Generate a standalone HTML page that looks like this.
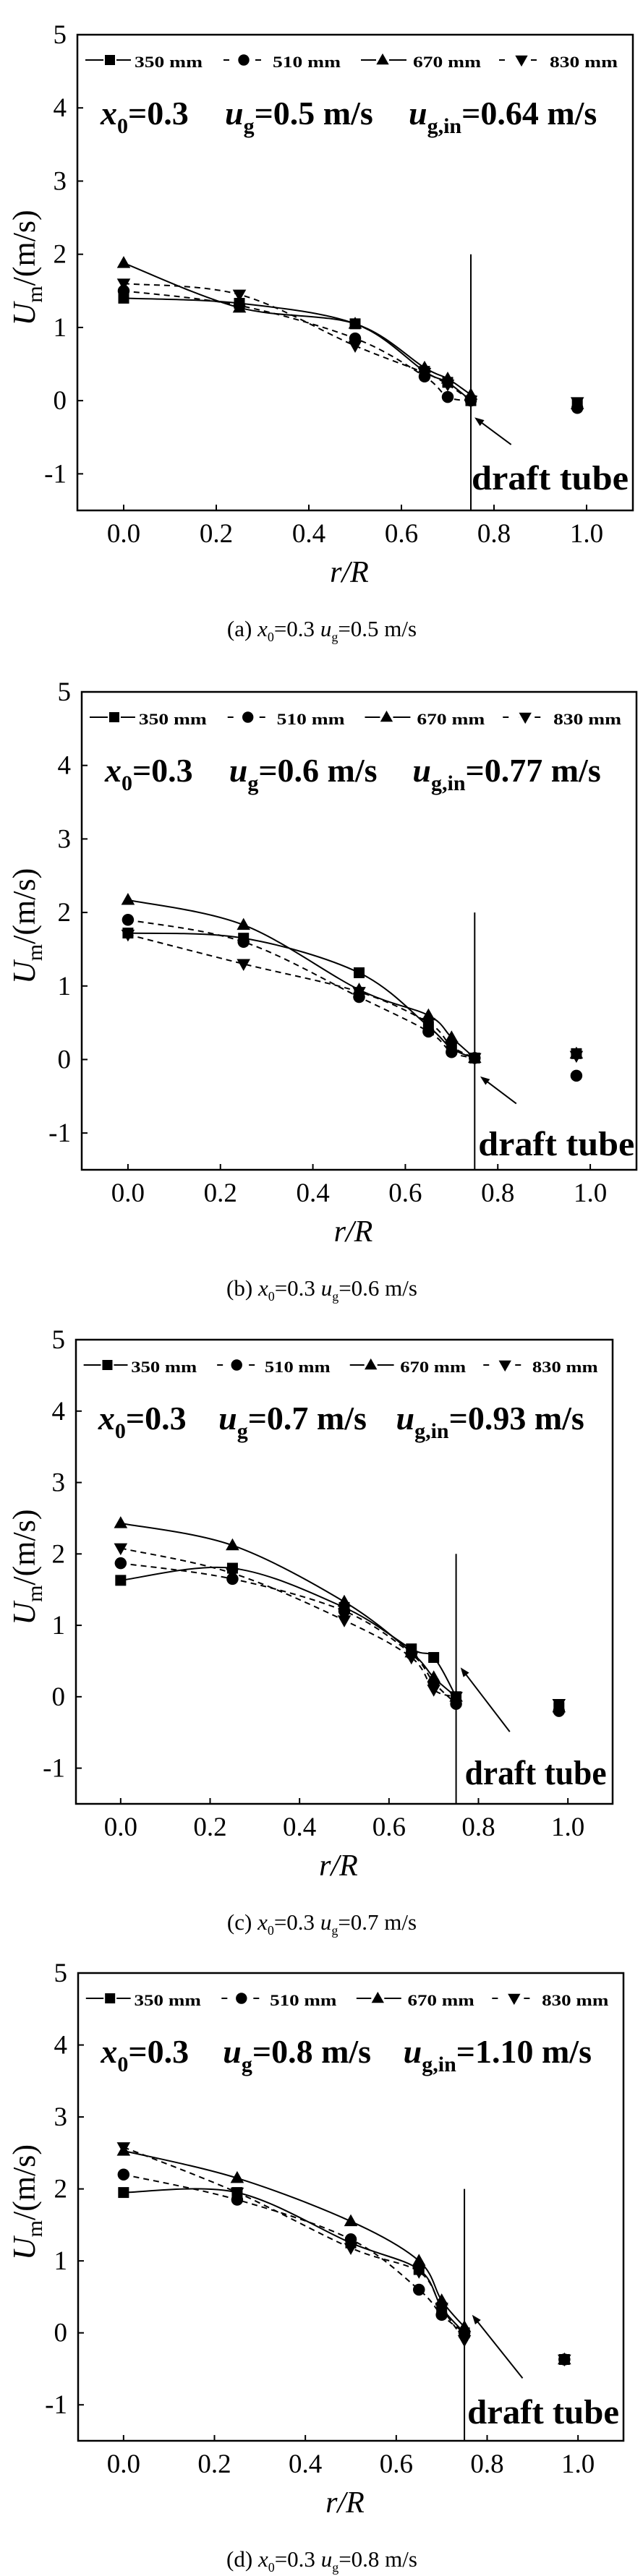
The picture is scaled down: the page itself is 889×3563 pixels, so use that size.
<!DOCTYPE html>
<html><head><meta charset="utf-8">
<style>
html,body{margin:0;padding:0;background:#fff;}
svg{display:block;font-family:"Liberation Serif",serif;}
</style></head>
<body>
<svg id="fig" width="889" height="3563" viewBox="0 0 889 3563" xmlns="http://www.w3.org/2000/svg"></svg>
<script>
// ---- data ----
const seriesNames = ["350 mm","510 mm","670 mm","830 mm"];
const xA = [0,0.25,0.5,0.65,0.7,0.75,0.98];
const xB = [0,0.25,0.5,0.65,0.7,0.75,0.97];
const xC = [0,0.25,0.5,0.65,0.7,0.75,0.98];
const xD = [0,0.25,0.5,0.65,0.7,0.75,0.97];
const a350 = [1.40,1.33,1.05,0.40,0.25,0.00,-0.05];
const a510 = [1.50,1.30,0.85,0.33,0.05,0.00,-0.10];
const a670 = [1.88,1.27,1.05,0.45,0.30,0.08,-0.05];
const a830 = [1.60,1.45,0.75,0.38,0.22,0.00,-0.02];
const b350 = [1.72,1.65,1.18,0.45,0.15,0.02,0.08];
const b510 = [1.90,1.60,0.85,0.38,0.10,0.02,-0.22];
const b670 = [2.17,1.83,0.95,0.60,0.30,0.02,0.08];
const b830 = [1.70,1.30,0.92,0.50,0.18,0.02,0.05];
const c350 = [1.63,1.80,1.25,0.67,0.55,0.00,-0.15];
const c510 = [1.87,1.65,1.20,0.60,0.20,-0.10,-0.20];
const c670 = [2.43,2.12,1.33,0.62,0.27,0.00,-0.15];
const c830 = [2.08,1.73,1.07,0.55,0.10,0.00,-0.10];
const d350 = [1.95,1.95,1.25,0.88,0.35,0.00,-0.37];
const d510 = [2.20,1.85,1.30,0.60,0.25,0.00,-0.37];
const d670 = [2.53,2.15,1.55,1.00,0.45,0.08,-0.37];
const d830 = [2.58,1.95,1.18,0.85,0.35,-0.10,-0.37];
const xTicks = [0,0.2,0.4,0.6,0.8,1.0];
const xTickLabels = ["0.0","0.2","0.4","0.6","0.8","1.0"];
const yTicks = [-1,0,1,2,3,4,5];
const yTickLabels = ["-1","0","1","2","3","4","5"];
const ugVals = ["0.5","0.6","0.7","0.8"];
const uginVals = ["0.64","0.77","0.93","1.10"];
const letters = ["a","b","c","d"];

const panels = [
 {L:107,R:875,T:48,B:706,xs:[xA],ys:[a350,a510,a670,a830],arrow:[0.837,-0.6,0.758,-0.23],dt:[1,-29,217]},
 {L:113,R:880,T:957,B:1618,xs:[xB],ys:[b350,b510,b670,b830],arrow:[0.84,-0.6,0.762,-0.23],dt:[5,-20,216]},
 {L:105,R:847,T:1853,B:2495,xs:[xC],ys:[c350,c510,c670,c830],arrow:[0.87,-0.49,0.76,0.41],dt:[12,-27,196]},
 {L:108,R:862,T:2729,B:3376,xs:[xD],ys:[d350,d510,d670,d830],arrow:[0.878,-0.63,0.767,0.25],dt:[4,-24,210]}
];
const NS="http://www.w3.org/2000/svg";
const svg=document.getElementById('fig');
function el(tag,attrs,parent){const e=document.createElementNS(NS,tag);for(const k in attrs)e.setAttribute(k,attrs[k]);(parent||svg).appendChild(e);return e;}

function marker(g,type,cx,cy,s){
  let m;
  if(type===0){m=el('rect',{x:cx-s*0.5,y:cy-s*0.5,width:s,height:s,fill:'#000'},g);}
  else if(type===1){m=el('circle',{cx:cx,cy:cy,r:s*0.55,fill:'#000'},g);}
  else if(type===2){m=el('polygon',{points:`${cx},${cy-s*0.65} ${cx+s*0.62},${cy+s*0.45} ${cx-s*0.62},${cy+s*0.45}`,fill:'#000'},g);}
  else {m=el('polygon',{points:`${cx},${cy+s*0.65} ${cx+s*0.62},${cy-s*0.45} ${cx-s*0.62},${cy-s*0.45}`,fill:'#000'},g);}
  return m;
}
function spline(pts){
  let d=`M${pts[0][0]},${pts[0][1]}`;
  for(let i=0;i<pts.length-1;i++){
    const p0=pts[Math.max(0,i-1)],p1=pts[i],p2=pts[i+1],p3=pts[Math.min(pts.length-1,i+2)];
    const c1x=p1[0]+(p2[0]-p0[0])/6,c1y=p1[1]+(p2[1]-p0[1])/6;
    const c2x=p2[0]-(p3[0]-p1[0])/6,c2y=p2[1]-(p3[1]-p1[1])/6;
    d+=` C${c1x},${c1y} ${c2x},${c2y} ${p2[0]},${p2[1]}`;
  }
  return d;
}

panels.forEach((p,pi)=>{
  const g=el('g',{});
  
  
  const W=p.R-p.L, H=p.B-p.T;
  const sx=v=>p.L+(v+0.1)/1.2*W;
  const sy=v=>p.T+(5-v)/6.5*H;
  const k=W/768;
  const fr=el('rect',{x:p.L,y:p.T,width:W,height:H,fill:'none',stroke:'#000','stroke-width':2.5},g);
  
  
  xTicks.forEach((t,i)=>{
    el('line',{x1:sx(t),x2:sx(t),y1:p.B,y2:p.B-8,stroke:'#000','stroke-width':2},g);
    const tl=el('text',{x:sx(t),y:p.B+44,'font-size':37,'text-anchor':'middle'},g);
    tl.textContent=xTickLabels[i];
    
    
  });
  yTicks.forEach((t,i)=>{
    el('line',{x1:p.L,x2:p.L+8,y1:sy(t),y2:sy(t),stroke:'#000','stroke-width':2},g);
    const tl=el('text',{x:p.L-15,y:sy(t)+12,'font-size':37,'text-anchor':'end'},g);
    tl.textContent=yTickLabels[i];
    
    
  });
  const xt=el('text',{x:(p.L+p.R)/2-8,y:p.B+99,'font-size':42,'font-style':'italic','text-anchor':'middle'},g);
  xt.textContent='r/R';
  
  
  const yc=p.T+H*0.49;
  const yt=el('text',{x:0,y:0,'font-size':44,'text-anchor':'middle',transform:`translate(48,${yc}) rotate(-90)`},g);
  yt.innerHTML='<tspan font-style="italic">U</tspan><tspan font-size="30" dy="10">m</tspan><tspan dy="-10">/(m/s)</tspan>';
  
  
  const vl=el('line',{x1:sx(0.75),x2:sx(0.75),y1:sy(2),y2:p.B,stroke:'#000','stroke-width':2},g);
  
  
  const [ax1,ay1,ax2,ay2]=p.arrow;
  const X1=sx(ax1),Y1=sy(ay1),X2=sx(ax2),Y2=sy(ay2);
  const ang=Math.atan2(Y2-Y1,X2-X1);
  const ar=el('g',{},g);
  
  
  el('line',{x1:X1,y1:Y1,x2:X2-Math.cos(ang)*8,y2:Y2-Math.sin(ang)*8,stroke:'#000','stroke-width':2},ar);
  const hl=13,hw=5;
  const bx=X2-Math.cos(ang)*hl,by=Y2-Math.sin(ang)*hl;
  el('polygon',{points:`${X2},${Y2} ${bx+Math.sin(ang)*hw},${by-Math.cos(ang)*hw} ${bx-Math.sin(ang)*hw},${by+Math.cos(ang)*hw}`,fill:'#000'},ar);
  const dt=el('text',{x:sx(0.75)+p.dt[0],y:p.B+p.dt[1],'font-size':48,'font-weight':'bold',textLength:p.dt[2],lengthAdjust:'spacingAndGlyphs'},g);
  dt.textContent='draft tube';
  
  
  const xs=p.xs[0];
  p.ys.forEach((ys,si)=>{
    const sg=el('g',{},g);
    
    
    const pts=[];
    for(let i=0;i<6;i++)pts.push([sx(xs[i]),sy(ys[i])]);
    const dash=(si%2===1)?'8,6':null;
    const attrs={d:spline(pts),fill:'none',stroke:'#000','stroke-width':2};
    if(dash)attrs['stroke-dasharray']=dash;
    const ln=el('path',attrs,sg);
    
    
    xs.forEach((xv,i)=>{
      const m=marker(sg,si,sx(xv),sy(ys[i]),15);
      
      
    });
  });
  const lg=el('g',{},g);
  
  
  const legX=[[11,74,45,79],[202,264,230,270],[392,455,422,464],[583,638,614,653]];
  const ly=p.T+35;
  legX.forEach((lx,si)=>{
    const e=el('g',{},lg);
    
    
    const la={x1:p.L+lx[0]*k,x2:p.L+lx[1]*k,y1:ly,y2:ly,stroke:'#000','stroke-width':2};
    if(si%2===1)la['stroke-dasharray']='8,14';
    el('line',la,e);
    el('rect',{x:p.L+lx[2]*k-9,y:ly-8,width:18,height:16,fill:'#fff'},e);
    marker(e,si,p.L+lx[2]*k,ly,14);
    const t=el('text',{x:p.L+lx[3]*k,y:p.T+45,'font-size':22,'font-weight':'bold',textLength:94*k,lengthAdjust:'spacingAndGlyphs'},e);
    t.textContent=seriesNames[si];
  });
  const ab=p.T+124;
  const an=el('g',{'font-weight':'bold','font-size':46},g);
  
  
  const t1=el('text',{x:p.L+32*k,y:ab},an);
  t1.innerHTML='<tspan font-style="italic">x</tspan><tspan font-size="30" dy="12">0</tspan><tspan dy="-12">=0.3</tspan>';
  const t2=el('text',{x:p.L+204*k,y:ab},an);
  t2.innerHTML='<tspan font-style="italic">u</tspan><tspan font-size="30" dy="12">g</tspan><tspan dy="-12">='+ugVals[pi]+' m/s</tspan>';
  const t3=el('text',{x:p.L+458*k,y:ab},an);
  t3.innerHTML='<tspan font-style="italic">u</tspan><tspan font-size="30" dy="12">g,in</tspan><tspan dy="-12">='+uginVals[pi]+' m/s</tspan>';
  const cap=el('text',{x:445,y:p.B+174,'font-size':31,'text-anchor':'middle'},g);
  cap.innerHTML='('+letters[pi]+') <tspan font-style="italic">x</tspan><tspan font-size="18" dy="7">0</tspan><tspan dy="-7">=0.3 </tspan><tspan font-style="italic">u</tspan><tspan font-size="18" dy="7">g</tspan><tspan dy="-7">='+ugVals[pi]+' m/s</tspan>';
  
  
});
</script>
</body></html>
